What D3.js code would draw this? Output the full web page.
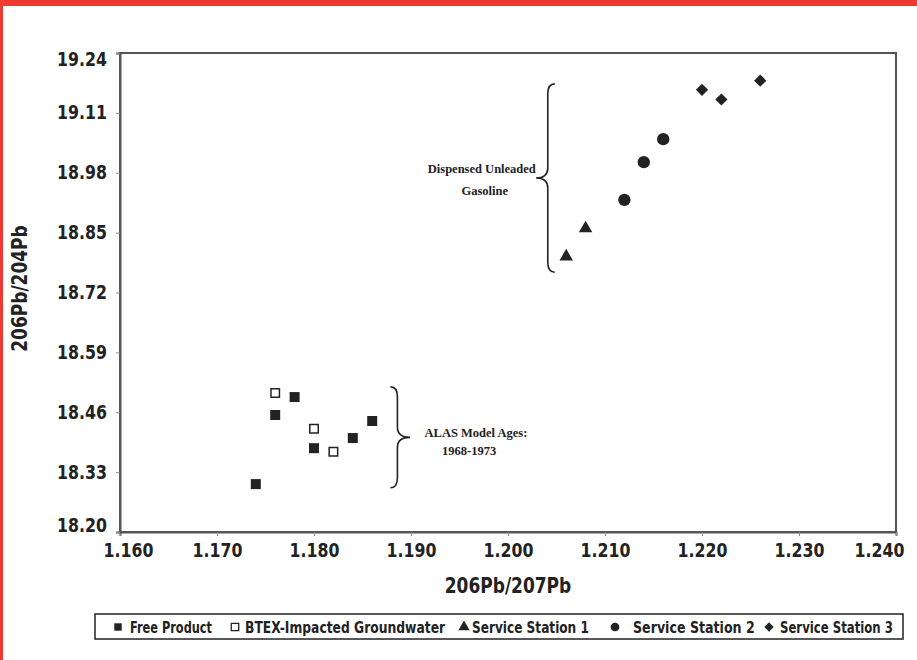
<!DOCTYPE html>
<html>
<head>
<meta charset="utf-8">
<script src="https://cdn.jsdelivr.net/npm/d3@7"></script>
<style>
  body { margin: 0; background: #fff; }
  svg { display: block; }
  .cond { font-family: 'DejaVu Sans', sans-serif; font-weight: bold; }
</style>
</head>
<body>
<svg width="917" height="660"></svg>
<script>
// ---- data ----
let freeProduct = [[1.174, 18.304], [1.176, 18.454], [1.178, 18.493], [1.180, 18.382], [1.184, 18.404], [1.186, 18.441]];
let btexGroundwater = [[1.176, 18.502], [1.180, 18.424], [1.182, 18.374]];
let station1 = [[1.206, 18.798], [1.208, 18.859]];
let station2 = [[1.212, 18.921], [1.214, 19.003], [1.216, 19.053]];
let station3 = [[1.220, 19.160], [1.222, 19.139], [1.226, 19.180]];

let xTicks = [1.160, 1.170, 1.180, 1.190, 1.200, 1.210, 1.220, 1.230, 1.240];
let yTicks = [18.20, 18.33, 18.46, 18.59, 18.72, 18.85, 18.98, 19.11, 19.24];

let legendLabels = ["Free Product", "BTEX-Impacted Groundwater", "Service Station 1", "Service Station 2", "Service Station 3"];

// brace annotations in data units: x of brace, y top, y bottom, tip x, text lines
let gasolineNote = {x: 1.2041, y0: 19.173, y1: 18.764, tip: 1.2029, lines: ["Dispensed Unleaded", "Gasoline"], tx: [1.1973, 1.1976], ty: [18.99, 18.942]};
let alasNote = {x: 1.1886, y0: 18.515, y1: 18.296, tip: 1.1899, lines: ["ALAS Model Ages:", "1968-1973"], tx: [1.1967, 1.1960], ty: [18.415, 18.376]};

// ---- layout ----
let svg = d3.select("svg"),
    margin = {top: 53, right: 21, bottom: 128, left: 120},
    width = +svg.attr("width") - margin.left - margin.right,
    height = +svg.attr("height") - margin.top - margin.bottom;

let serifFont = "'Liberation Serif', 'DejaVu Serif', serif";
let ink = "#222";

// no narrow sans installed, so squeeze the bold sans to look condensed
function narrow(sel, k) {
  sel.each(function() {
    let w = this.getComputedTextLength();
    this.setAttribute("textLength", (w * k).toFixed(1));
    this.setAttribute("lengthAdjust", "spacingAndGlyphs");
  });
}

// red frame of the page
svg.append("rect").attr("x", 0).attr("y", 0).attr("width", 917).attr("height", 660).attr("fill", "#fff");
svg.append("rect").attr("x", 0).attr("y", 0).attr("width", 917).attr("height", 6).attr("fill", "#ee3a33");
svg.append("rect").attr("x", 0).attr("y", 0).attr("width", 3).attr("height", 660).attr("fill", "#ee3a33");

let x = d3.scaleLinear().domain([1.16, 1.24]).range([0, width]),
    y = d3.scaleLinear().domain([18.20, 19.24]).range([height, 0]);

let g = svg.append("g")
  .attr("transform", "translate(" + margin.left + "," + margin.top + ")");

// plot frame
g.append("rect")
  .attr("width", width)
  .attr("height", height)
  .attr("fill", "none")
  .attr("stroke", "#555")
  .attr("stroke-width", 2);

// axes
let xAxis = g.append("g")
  .attr("class", "axis axis-x")
  .attr("transform", "translate(0," + height + ")")
  .call(d3.axisBottom(x).tickValues(xTicks).tickFormat(function(d) { return d.toFixed(3); }).tickSize(4).tickPadding(8));

let yAxis = g.append("g")
  .attr("class", "axis axis-y")
  .call(d3.axisLeft(y).tickValues(yTicks).tickFormat(function(d) { return d.toFixed(2); }).tickSize(4).tickPadding(9));

[xAxis, yAxis].forEach(function(a) {
  a.attr("font-family", null).attr("font-size", null);
  a.select(".domain").attr("stroke", "#555").attr("stroke-width", 2);
  a.selectAll(".tick line").attr("stroke", "#888");
  a.selectAll(".tick text")
    .attr("class", "cond")
    .attr("fill", ink)
    .style("font-size", "19px")
    .call(narrow, 0.83);
});

// Excel pulls the end labels in a little
xAxis.selectAll(".tick text").filter(function(d, i) { return i === 0; }).attr("dx", 8);
xAxis.selectAll(".tick text").filter(function(d, i) { return i === xTicks.length - 1; }).attr("dx", -17);
yAxis.selectAll(".tick text").filter(function(d, i) { return i === 0; }).attr("dy", "-0.03em");
yAxis.selectAll(".tick text").filter(function(d, i) { return i === yTicks.length - 1; }).attr("dy", "0.64em");

// axis titles
g.append("text")
  .attr("class", "cond")
  .attr("x", width / 2)
  .attr("y", height + 61)
  .attr("text-anchor", "middle")
  .attr("fill", ink)
  .style("font-size", "21px")
  .text("206Pb/207Pb")
  .call(narrow, 0.81);

g.append("text")
  .attr("class", "cond")
  .attr("transform", "translate(" + (-93) + "," + (height / 2 - 4) + ") rotate(-90)")
  .attr("text-anchor", "middle")
  .attr("fill", ink)
  .style("font-size", "21px")
  .text("206Pb/204Pb")
  .call(narrow, 0.81);

// markers
let series = [
  {data: freeProduct, type: d3.symbolSquare, size: 100, fill: ink, stroke: "none"},
  {data: btexGroundwater, type: d3.symbolSquare, size: 72, fill: "#fff", stroke: ink},
  {data: station1, type: d3.symbolTriangle, size: 78, fill: ink, stroke: "none"},
  {data: station2, type: d3.symbolCircle, size: 120, fill: ink, stroke: "none"},
  {data: station3, type: d3.symbolDiamond2, size: 95, fill: ink, stroke: "none"}
];

series.forEach(function(s) {
  g.selectAll(null)
    .data(s.data)
    .enter().append("path")
    .attr("d", d3.symbol().type(s.type).size(s.size))
    .attr("transform", function(d) { return "translate(" + x(d[0]) + "," + y(d[1]) + ")"; })
    .attr("fill", s.fill)
    .attr("stroke", s.stroke)
    .attr("stroke-width", 1.5);
});

// curly braces
function brace(n) {
  let bx = x(n.x), t = y(n.y0), b = y(n.y1), tip = x(n.tip), m = (t + b) / 2;
  let h = bx > tip ? 7 : -7, r = 10;
  return "M" + (bx + h) + "," + t +
    " Q" + bx + "," + t + " " + bx + "," + (t + r) +
    " L" + bx + "," + (m - r) +
    " Q" + bx + "," + m + " " + tip + "," + m +
    " Q" + bx + "," + m + " " + bx + "," + (m + r) +
    " L" + bx + "," + (b - r) +
    " Q" + bx + "," + b + " " + (bx + h) + "," + b;
}

[gasolineNote, alasNote].forEach(function(n) {
  g.append("path")
    .attr("d", brace(n))
    .attr("fill", "none")
    .attr("stroke", ink)
    .attr("stroke-width", 1.6);

  n.lines.forEach(function(line, i) {
    g.append("text")
      .attr("x", x(n.tx[i]))
      .attr("y", y(n.ty[i]))
      .attr("dy", "0.35em")
      .attr("text-anchor", "middle")
      .attr("fill", ink)
      .style("font-family", serifFont)
      .style("font-weight", "bold")
      .style("font-size", "12.5px")
      .text(line);
  });
});

// legend
let legend = svg.append("g").attr("transform", "translate(95,614)");
legend.append("rect")
  .attr("width", 808)
  .attr("height", 25)
  .attr("fill", "#fff")
  .attr("stroke", ink)
  .attr("stroke-width", 1.5);

let legendX = [23, 140, 369, 520, 674];
let legendGap = [12, 10, 8, 18, 11];
let legendTextWidth = [82, 200, 117, 122, 113];
let legendItems = legend.selectAll(".item")
  .data(legendLabels)
  .enter().append("g")
  .attr("class", "item")
  .attr("transform", function(d, i) { return "translate(" + legendX[i] + ",13)"; });

legendItems.append("path")
  .attr("d", function(d, i) { return d3.symbol().type(series[i].type).size(i === 3 ? 60 : 55)(); })
  .attr("fill", function(d, i) { return series[i].fill; })
  .attr("stroke", function(d, i) { return series[i].stroke; })
  .attr("stroke-width", 1.3);

legendItems.append("text")
  .attr("class", "cond")
  .attr("dy", "0.36em")
  .attr("fill", ink)
  .style("font-size", "15.5px")
  .text(function(d) { return d; })
  .each(function(d, i) {
    let k = legendTextWidth[i] / this.getComputedTextLength();
    d3.select(this).attr("transform", "translate(" + legendGap[i] + ",0) scale(" + k.toFixed(3) + ",1)");
  });
</script>
</body>
</html>
